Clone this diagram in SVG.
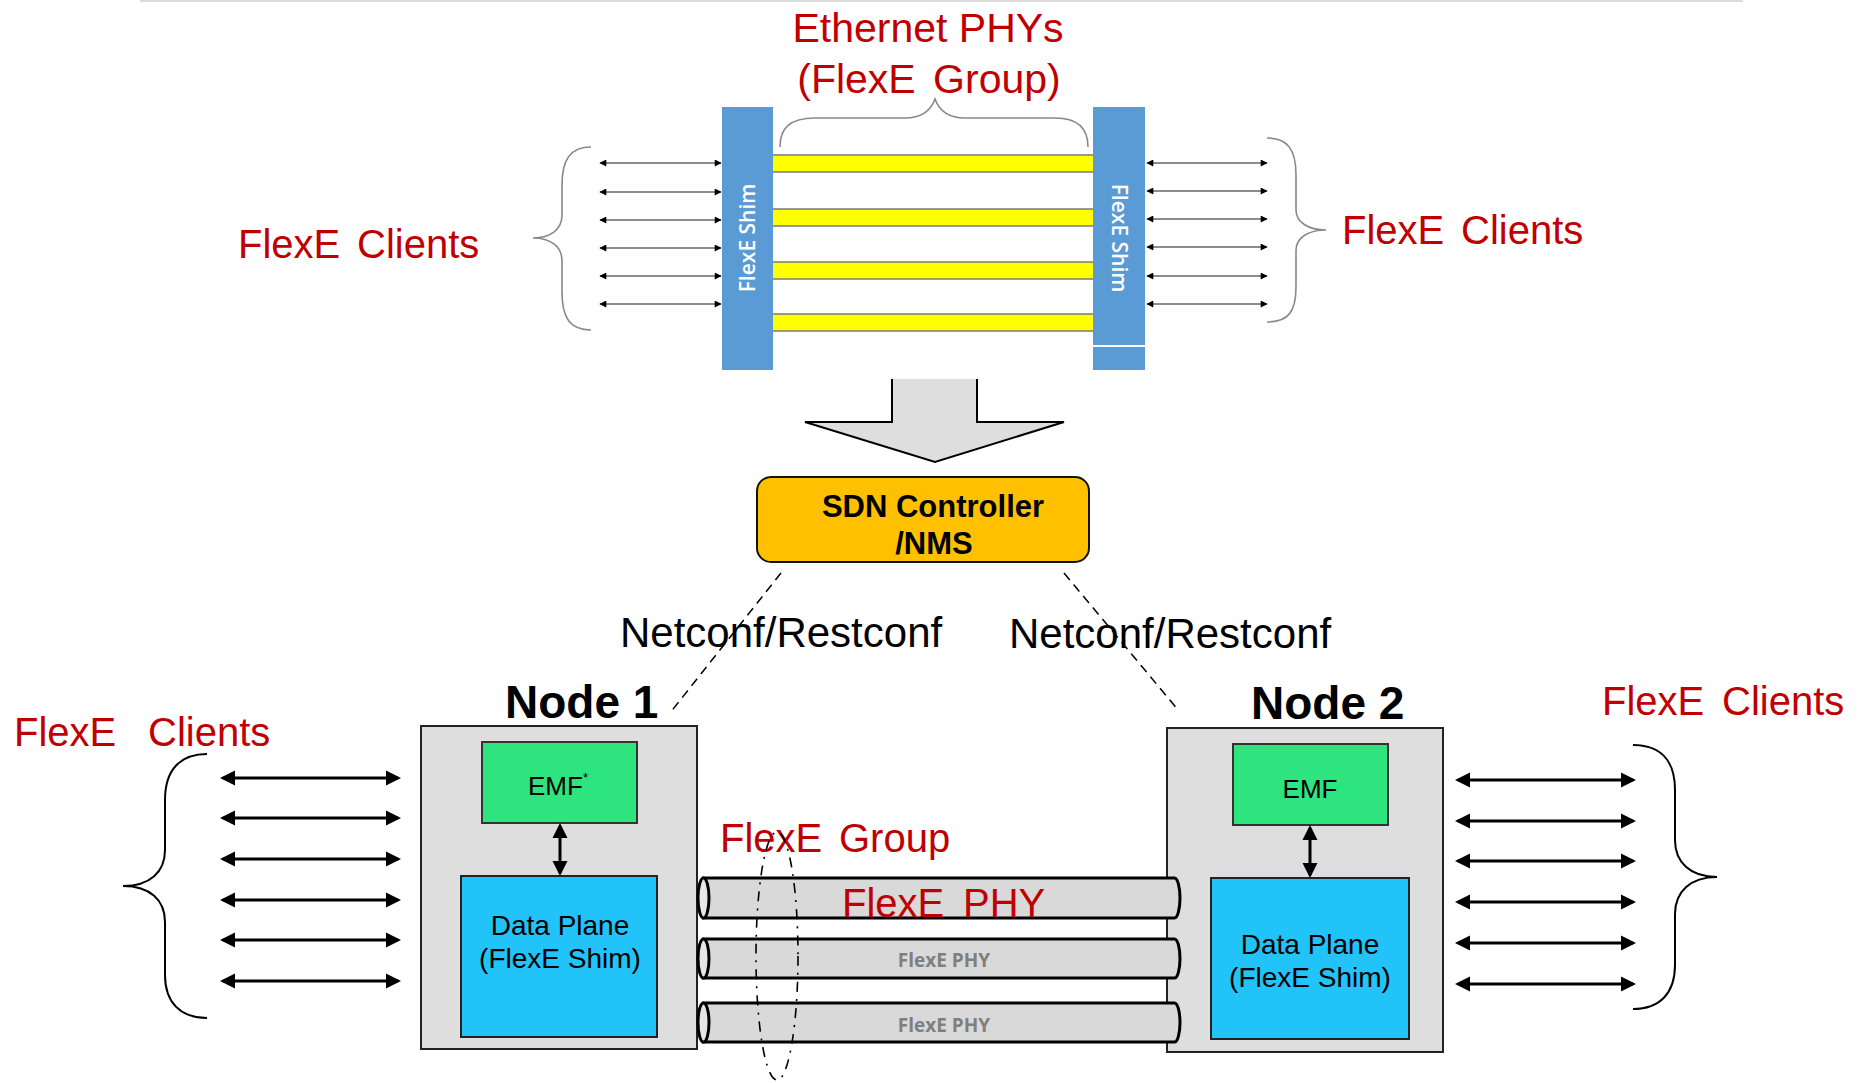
<svg xmlns="http://www.w3.org/2000/svg" width="1862" height="1083" viewBox="0 0 1862 1083">
<style>
text{font-family:"Liberation Sans",Arial,sans-serif}
.red{fill:#C00000;font-size:40px}
.big{font-size:41px}
.blk{fill:#000;font-size:42px}
.bold{font-weight:bold}
.sdn{font-size:31px}
.node{font-size:46px}
.shim{fill:#fff;font-family:"Open Sans",sans-serif;font-size:21px;font-weight:600}
.phy{fill:#7F7F7F;font-family:"Open Sans",sans-serif;font-size:19px;font-weight:bold}
.thin{stroke:#666;stroke-width:1.6;fill:none}
.thick{stroke:#000;stroke-width:3;fill:none}
.brace1{stroke:#888;stroke-width:1.6;fill:none}
.brace2{stroke:#000;stroke-width:2;fill:none}
.dash{stroke:#000;stroke-width:1.5;stroke-dasharray:9 6;fill:none}
.pipe{fill:#D9D9D9;stroke:#000;stroke-width:3}
.pend{fill:#E6E6E6;stroke:#000;stroke-width:3}
.emf{font-size:26px;fill:#000}
.inner{font-size:28px;fill:#000}
</style>
<defs>
<marker id="sm" viewBox="0 0 10 10" refX="9" refY="5" markerWidth="8" markerHeight="7" markerUnits="userSpaceOnUse" orient="auto-start-reverse"><path d="M0,0 L10,5 L0,10 z" fill="#000"/></marker>
<marker id="bg" viewBox="0 0 10 10" refX="8" refY="5" markerWidth="15" markerHeight="16" markerUnits="userSpaceOnUse" orient="auto-start-reverse"><path d="M0,0 L10,5 L0,10 z" fill="#000"/></marker>
</defs>

<line x1="140" y1="1" x2="1743" y2="1" stroke="#cfcfcf" stroke-width="1.5"/>

<g id="top-group">
<text class="red big" x="928" y="42" text-anchor="middle">Ethernet PHYs</text>
<text class="red big" x="929" y="93" text-anchor="middle" word-spacing="6">(FlexE Group)</text>
<path class="brace1" d="M780,147 C780,128 790,118 815,118 L905,118 C922,118 931,110 935,99 C939,110 948,118 965,118 L1055,118 C1078,118 1088,128 1088,147"/>
<g id="phys">
<rect x="765" y="155" width="336" height="17" fill="#FFFF00" stroke="#7a7a7a" stroke-width="1.5"/>
<rect x="765" y="209" width="336" height="17" fill="#FFFF00" stroke="#7a7a7a" stroke-width="1.5"/>
<rect x="765" y="262" width="336" height="17" fill="#FFFF00" stroke="#7a7a7a" stroke-width="1.5"/>
<rect x="765" y="314" width="336" height="17" fill="#FFFF00" stroke="#7a7a7a" stroke-width="1.5"/>
</g>
<g id="shim-left">
<rect x="722" y="107" width="51" height="263" fill="#5B9BD5"/>
<text class="shim" transform="translate(748,238) rotate(-90)" x="0" y="7" text-anchor="middle">FlexE Shim</text>
</g>
<g id="shim-right">
<rect x="1093" y="107" width="52" height="263" fill="#5B9BD5"/>
<line x1="1093" y1="346" x2="1145" y2="346" stroke="#fff" stroke-width="2"/>
<text class="shim" transform="translate(1119,238) rotate(90)" x="0" y="7" text-anchor="middle">FlexE Shim</text>
</g>
<g id="top-clients-left">
<text class="red"><tspan x="238" y="258">FlexE</tspan> <tspan x="357" y="258">Clients</tspan></text>
<path class="brace1" d="M591,147 C570,147 562,160 562,185 L562,215 C562,230 550,238 533,238 C550,238 562,246 562,261 L562,292 C562,318 570,330 591,330"/>
</g>
<g id="top-clients-right">
<text class="red"><tspan x="1342" y="244">FlexE</tspan> <tspan x="1461" y="244">Clients</tspan></text>
<path class="brace1" d="M1267,138 C1288,138 1296,150 1296,175 L1296,210 C1296,222 1308,230 1326,230 C1308,230 1296,238 1296,250 L1296,287 C1296,312 1288,322 1267,322"/>
</g>
</g>

<g id="down-arrow">
<path d="M892,379 L892,422 L805,422 L935,462 L1064,422 L977,422 L977,379" fill="#DEDEDE" stroke="#000" stroke-width="2"/>
</g>

<g id="sdn">
<rect x="757" y="477" width="332" height="85" rx="14" fill="#FFC000" stroke="#111" stroke-width="2"/>
<text class="bold sdn" x="933" y="517" text-anchor="middle">SDN Controller</text>
<text class="bold sdn" x="934" y="554" text-anchor="middle">/NMS</text>
</g>

<g id="node1">
<text class="bold node" x="505" y="718">Node 1</text>
<rect x="421" y="726" width="276" height="323" fill="#DEDEDE" stroke="#222" stroke-width="2"/>
<rect x="482" y="742" width="155" height="81" fill="#2EE47F" stroke="#333" stroke-width="2"/>
<text class="emf" x="558" y="795" text-anchor="middle">EMF<tspan style="font-size:13px" dy="-13">*</tspan></text>
<rect x="461" y="876" width="196" height="161" fill="#21C3F8" stroke="#222" stroke-width="2"/>
<text class="inner" x="560" y="935" text-anchor="middle">Data Plane</text>
<text class="inner" x="560" y="968" text-anchor="middle">(FlexE Shim)</text>
</g>

<g id="node2">
<text class="bold node" x="1251" y="719">Node 2</text>
<rect x="1167" y="728" width="276" height="324" fill="#DEDEDE" stroke="#222" stroke-width="2"/>
<rect x="1233" y="744" width="155" height="81" fill="#2EE47F" stroke="#333" stroke-width="2"/>
<text class="emf" x="1310" y="798" text-anchor="middle">EMF</text>
<rect x="1211" y="878" width="198" height="161" fill="#21C3F8" stroke="#222" stroke-width="2"/>
<text class="inner" x="1310" y="954" text-anchor="middle">Data Plane</text>
<text class="inner" x="1310" y="987" text-anchor="middle">(FlexE Shim)</text>
</g>

<g id="flexe-group">
<g id="phy1">
<path class="pipe" d="M703.5,878 L1174.5,878 A5.5,20 0 0 1 1174.5,918 L703.5,918 Z"/>
<ellipse class="pend" cx="703.5" cy="898" rx="5.5" ry="20"/>
<text class="red"><tspan x="842" y="917">FlexE</tspan> <tspan x="963" y="917">PHY</tspan></text>
</g>
<g id="phy2">
<path class="pipe" d="M703.5,939 L1174.5,939 A5.5,19.5 0 0 1 1174.5,978 L703.5,978 Z"/>
<ellipse class="pend" cx="703.5" cy="958.5" rx="5.5" ry="19.5"/>
<text class="phy" x="944" y="967" text-anchor="middle">FlexE PHY</text>
</g>
<g id="phy3">
<path class="pipe" d="M703.5,1003 L1174.5,1003 A5.5,19.5 0 0 1 1174.5,1042 L703.5,1042 Z"/>
<ellipse class="pend" cx="703.5" cy="1022.5" rx="5.5" ry="19.5"/>
<text class="phy" x="944" y="1032" text-anchor="middle">FlexE PHY</text>
</g>
<text class="red"><tspan x="720" y="852">FlexE</tspan> <tspan x="839" y="852">Group</tspan></text>
<ellipse cx="777" cy="956" rx="21" ry="124" fill="none" stroke="#000" stroke-width="1.6" stroke-dasharray="10 7 2 7"/>
</g>

<g id="clients-left">
<text class="red"><tspan x="14" y="746">FlexE</tspan> <tspan x="148" y="746">Clients</tspan></text>
<path class="brace2" d="M207,754 C180,754 165,770 165,800 L165,850 C165,872 150,886 123,886 C150,886 165,900 165,922 L165,975 C165,1002 180,1018 207,1018"/>
</g>
<g id="clients-right">
<text class="red"><tspan x="1602" y="715">FlexE</tspan> <tspan x="1722" y="715">Clients</tspan></text>
<path class="brace2" d="M1633,745 C1660,745 1675,760 1675,790 L1675,840 C1675,862 1690,877 1717,877 C1690,877 1675,892 1675,914 L1675,965 C1675,993 1660,1009 1633,1009"/>
</g>

<g id="labels">
<text class="blk" x="620" y="647">Netconf/Restconf</text>
<text class="blk" x="1009" y="648">Netconf/Restconf</text>
</g>

<g id="connectors">
<line class="dash" x1="781" y1="573" x2="670" y2="713"/>
<line class="dash" x1="1064" y1="573" x2="1179" y2="711"/>
<g marker-start="url(#sm)" marker-end="url(#sm)">
<line class="thin" x1="600" y1="163" x2="721" y2="163"/>
<line class="thin" x1="600" y1="192" x2="721" y2="192"/>
<line class="thin" x1="600" y1="220" x2="721" y2="220"/>
<line class="thin" x1="600" y1="248" x2="721" y2="248"/>
<line class="thin" x1="600" y1="276" x2="721" y2="276"/>
<line class="thin" x1="600" y1="304" x2="721" y2="304"/>
<line class="thin" x1="1147" y1="163" x2="1267" y2="163"/>
<line class="thin" x1="1147" y1="191" x2="1267" y2="191"/>
<line class="thin" x1="1147" y1="219" x2="1267" y2="219"/>
<line class="thin" x1="1147" y1="247" x2="1267" y2="247"/>
<line class="thin" x1="1147" y1="276" x2="1267" y2="276"/>
<line class="thin" x1="1147" y1="304" x2="1267" y2="304"/>
</g>
<g marker-start="url(#bg)" marker-end="url(#bg)">
<line class="thick" x1="223" y1="778" x2="398" y2="778"/>
<line class="thick" x1="223" y1="818" x2="398" y2="818"/>
<line class="thick" x1="223" y1="859" x2="398" y2="859"/>
<line class="thick" x1="223" y1="900" x2="398" y2="900"/>
<line class="thick" x1="223" y1="940" x2="398" y2="940"/>
<line class="thick" x1="223" y1="981" x2="398" y2="981"/>
<line class="thick" x1="1458" y1="780" x2="1633" y2="780"/>
<line class="thick" x1="1458" y1="821" x2="1633" y2="821"/>
<line class="thick" x1="1458" y1="861" x2="1633" y2="861"/>
<line class="thick" x1="1458" y1="902" x2="1633" y2="902"/>
<line class="thick" x1="1458" y1="943" x2="1633" y2="943"/>
<line class="thick" x1="1458" y1="984" x2="1633" y2="984"/>
<line class="thick" x1="560" y1="826" x2="560" y2="873"/>
<line class="thick" x1="1310" y1="828" x2="1310" y2="875"/>
</g>
</g>
</svg>
